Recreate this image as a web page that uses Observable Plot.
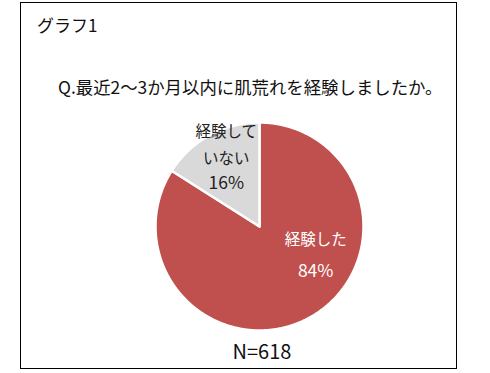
<!DOCTYPE html>
<html><head><meta charset="utf-8">
<script src="https://cdn.jsdelivr.net/npm/d3@7"></script>
<script src="https://cdn.jsdelivr.net/npm/@observablehq/plot@0.6"></script>
<style>
body{margin:0;background:#fff;}
#wrap{position:relative;width:490px;height:373px;overflow:hidden;font-family:"Noto Sans CJK JP","Noto Sans",sans-serif;}
#wrap svg{position:absolute;left:0;top:0;}
.t{position:absolute;white-space:nowrap;color:#111;line-height:1;}
#box{position:absolute;left:20px;top:2px;width:435px;height:365px;border:1.5px solid #000;}
</style></head>
<body><div id="wrap"><div id="box"></div></div>
<script>
const categories = ["経験した", "経験していない"];
const values = [84, 16];
const names = ["経験した", "経験して\nいない"];
const percents = ["84%", "16%"];
const colors = ["#C0504D", "#D9D9D9"];
const title = "グラフ1";
const question = "Q.最近2～3か月以内に肌荒れを経験しましたか。";
const caption = "N=618";

const pie = d3.pie().sort(null).value(d => d.value);
const arcs = pie(categories.map((c, i) => ({category: c, value: values[i]})));
const pts = [];
arcs.forEach(a => {
  const n = Math.max(2, Math.ceil((a.endAngle - a.startAngle) / 0.01));
  pts.push({category: a.data.category, x: 0, y: 0});
  for (let k = 0; k <= n; k++) {
    const t = a.startAngle + (a.endAngle - a.startAngle) * k / n;
    pts.push({category: a.data.category, x: Math.sin(t), y: Math.cos(t)});
  }
  pts.push({category: a.data.category, x: 0, y: 0});
});
const lab = [
  {name: names[0], pct: percents[0], x: 0.54, y: -0.29, fill: "#fff"},
  {name: names[1], pct: percents[1], x: -0.32, y: 0.683, fill: "#222"}
];

const chart = Plot.plot({
  width: 490, height: 373,
  marginLeft: 155, marginRight: 127, marginTop: 122, marginBottom: 43,
  x: {domain: [-1, 1], axis: null},
  y: {domain: [-1, 1], axis: null},
  color: {domain: categories, range: colors},
  style: {background: "transparent", overflow: "visible"},
  marks: [
    Plot.line(pts, {x: "x", y: "y", z: "category", fill: "category", stroke: "#fff", strokeWidth: 2.5, curve: "linear-closed"}),
    Plot.text([lab[0]], {x: "x", y: "y", text: "name", fill: "fill", fontSize: 15.5, dy: -17, fontFamily: "Noto Sans CJK JP"}),
    Plot.text([lab[0]], {x: "x", y: "y", text: "pct", fill: "fill", fontSize: 17.5, dy: 15, fontFamily: "Noto Sans CJK JP"}),
    Plot.text([lab[1]], {x: "x", y: "y", text: "name", fill: "fill", fontSize: 15.5, lineHeight: 1.74, dy: -14, fontFamily: "Noto Sans CJK JP"}),
    Plot.text([lab[1]], {x: "x", y: "y", text: "pct", fill: "fill", fontSize: 17.5, dy: 28, fontFamily: "Noto Sans CJK JP"})
  ]
});
const wrap = document.getElementById("wrap");
wrap.appendChild(chart);
function addText(txt, left, top, size, extra) {
  const d = document.createElement("div");
  d.className = "t"; d.textContent = txt;
  d.style.left = left + "px"; d.style.top = top + "px"; d.style.fontSize = size + "px";
  if (extra) Object.assign(d.style, extra);
  wrap.appendChild(d);
}
addText(title, 37, 16, 17);
addText(question, 58, 78, 17.4);
addText(caption, 262, 341, 20, {transform: "translateX(-50%)"});
</script></body></html>
